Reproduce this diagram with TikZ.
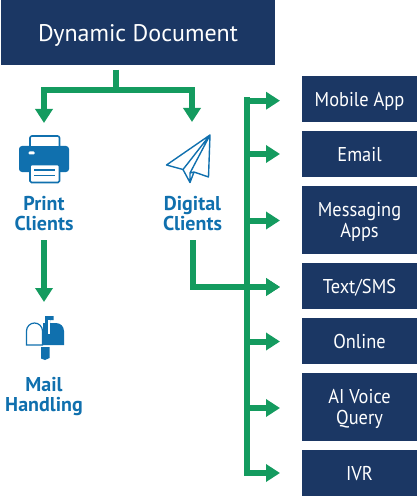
\documentclass[tikz,border=0pt]{standalone}
\usepackage{fontspec}
\setmainfont{PT Sans}
\newfontfamily\boxfont[FakeStretch=0.92]{PT Sans}
\usepackage{tikz}
\usetikzlibrary{arrows.meta, positioning}
\definecolor{navy}{HTML}{1B3764}
\definecolor{flowgreen}{HTML}{149B5F}
\definecolor{iconblue}{HTML}{1070AE}

\begin{document}
\begin{tikzpicture}[x=1pt, y=-1pt,
   boxbase/.style={rectangle, fill=navy, text=white, minimum width=115pt, minimum height=46pt, inner sep=0pt, outer sep=0pt, align=center, font=\boxfont\fontsize{20}{21}\selectfont},
   channel/.style={boxbase, execute at begin node={\rule[-4.5pt]{0pt}{24.5pt}}},
   tallchannel/.style={boxbase, minimum height=68pt, text height=39.4pt, text depth=5pt},
   client/.style={text=iconblue, inner sep=0pt, outer sep=0pt, align=center, font=\bfseries\fontsize{20}{20.5}\selectfont},
   icon/.style={minimum width=30pt, inner sep=0pt, outer sep=0pt},
   link/.style={draw=flowgreen, line width=6pt, -{Triangle[width=17pt, length=14pt, fill=flowgreen]}},
   bar/.style={draw=flowgreen, line width=6pt, line cap=rect}]
\useasboundingbox (0,0) rectangle (417,497);

\node[boxbase, minimum width=274pt, minimum height=65pt, font=\fontsize{24}{26}\selectfont, execute at begin node={\rule[-5pt]{0pt}{29pt}}] (title) at (138,32.5) {Dynamic Document};

\node[channel]                       (mobile) at (359.5,99) {Mobile App};
\node[channel, below=9pt of mobile]  (email)  {Email};
\node[tallchannel, below=9pt of email] (messaging) {Messaging\\Apps};
\node[channel, below=9pt of messaging] (sms) {Text/SMS};
\node[channel, below=9pt of sms]     (online) {Online};
\node[tallchannel, below=9pt of online] (voice) {AI Voice\\Query};
\node[channel, below=9pt of voice]   (ivr) {IVR};

\node[icon, minimum height=48pt] (printer) at (44,159) {};
\node[icon, minimum height=49pt] (plane) at (192,158.5) {};
\node[client] (print) at (44,213.5) {Print\\Clients};
\node[client] (digital) at (192.5,213.5) {Digital\\Clients};
\node[icon, minimum height=44pt] (mailbox) at (44,338) {};
\node[client] (mail) at (44,396.5) {Mail\\Handling};

\coordinate (fork) at (115.5,90);
\coordinate (trunk) at (247,0);

\draw[bar, line cap=butt, shorten <=5pt] (title.south -| fork) -- (fork);
\draw[link, shorten >=12pt] (fork) -| (printer.north);
\draw[link, shorten >=12pt] (fork) -| (plane.north);
\draw[link, shorten <=9pt, shorten >=14pt] (print.south) -- (mailbox.north);

\draw[bar] ([yshift=-1.5pt]trunk |- mobile.west) -- (trunk |- ivr.west);
\draw[link, shorten <=9pt, shorten >=22pt] (digital.south) |- ([yshift=-1pt]sms.west);
\foreach \target/\offset in {mobile/-1.7, email/0, messaging/-.5, sms/-1, online/-.5, voice/-1, ivr/0}
  \draw[link, shorten >=22pt] ([yshift=\offset pt]trunk |- \target.west) -- ([yshift=\offset pt]\target.west);

% printer
\fill[iconblue, rounded corners=3pt] (19,146) rectangle (69,172);
\draw[iconblue, line width=1.6pt, fill=white, rounded corners=2pt] (30,146) -- (30,136) -- (59.5,136) -- (59.5,146);
\draw[iconblue, line width=1.6pt, fill=white, rounded corners=1.5pt] (30,164.5) rectangle (59.5,182.5);
\draw[iconblue, line width=1.5pt] (34,170) -- (55,170) (34,175.5) -- (55,175.5);
\fill[white, rounded corners=1pt] (28.5,151.5) rectangle (34.5,154.5);

% paper plane
\draw[iconblue, line width=1.4pt, line join=round] (210,135) -- (166.5,165) -- (183,169.5) -- (190,182.5) -- (194,172) -- (208.5,177) -- cycle
  (183,169.5) -- (210,135) -- (190,173) -- (190,182.5) (190,173) -- (194,172);

% mailbox
\draw[iconblue, line width=1.2pt, fill=white] (26.5,345) -- (26.5,331) arc[start angle=180, end angle=360, x radius=8, y radius=8] -- (42.5,345) -- cycle;
\fill[iconblue] (43,323) -- (56,323) arc[start angle=270, end angle=360, radius=8] -- (64,345) -- (43,345) -- cycle;
\fill[iconblue] (45,316) -- (53.5,316) -- (53.5,320) -- (50,320) -- (50,323) -- (45,323) -- cycle;
\fill[white] (47.5,320) rectangle (50,334);
\fill[iconblue] (41,347) -- (49.5,347) -- (49.5,358) -- (45,360) -- (41,358.5) -- cycle;
\end{tikzpicture}
\end{document}
